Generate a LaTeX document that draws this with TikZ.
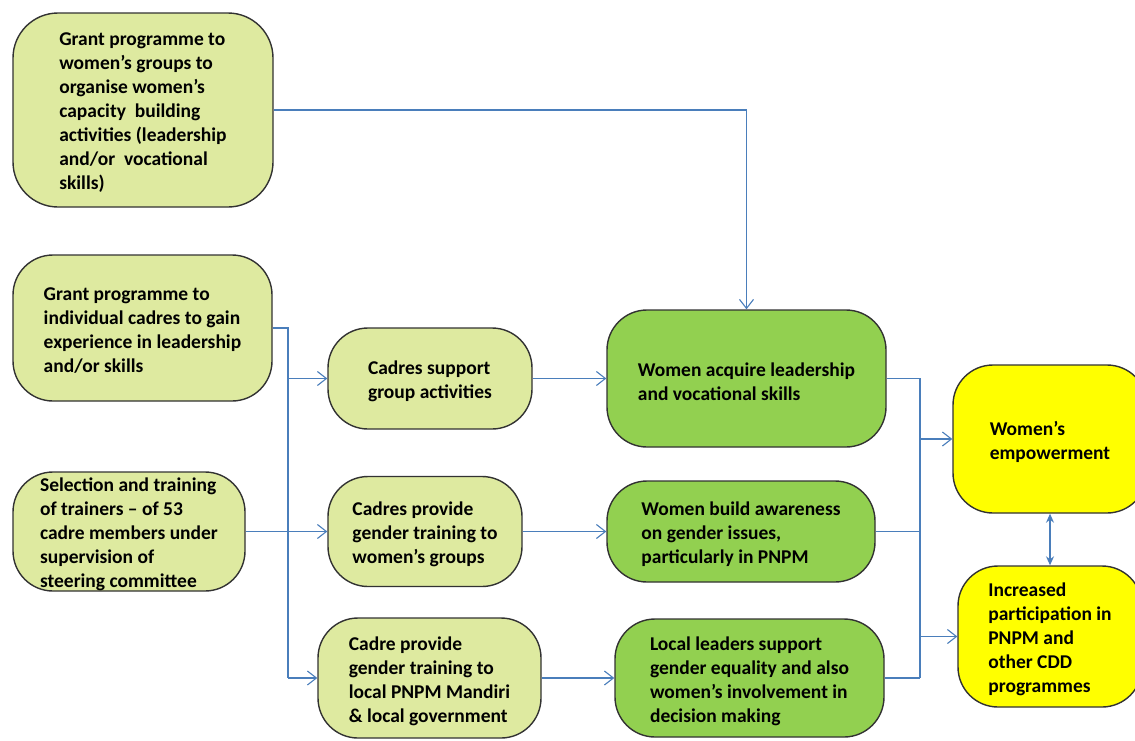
\documentclass[tikz,border=0pt]{standalone}
\usepackage{fontspec}
\setmainfont{Carlito}
\usetikzlibrary{arrows.meta}
\definecolor{lgreen}{RGB}{222,234,160}
\definecolor{dgreen}{RGB}{146,208,80}
\definecolor{yel}{RGB}{255,255,0}
\definecolor{bord}{RGB}{50,50,50}
\definecolor{conn}{RGB}{74,126,187}
\tikzset{
  box/.style={draw=bord, line width=1.4pt, rounded corners=40pt, align=left,
    inner sep=0pt, font=\fontsize{19.5}{24}\selectfont\bfseries, text=black},
  txt/.style={label={[anchor=center, yshift=-3pt, align=left, inner sep=0pt,
    font=\fontsize{19.5}{24}\selectfont\bfseries, text=black]center:#1}},
  lbox/.style={box, fill=lgreen},
  dbox/.style={box, fill=dgreen},
  ybox/.style={box, fill=yel},
  cline/.style={draw=conn, line width=1.15pt},
  carr/.style={cline, -{Straight Barb[length=9pt,width=14pt,line width=1.1pt]}},
  cdarr/.style={cline, {Stealth[length=9pt,width=8pt]}-{Stealth[length=9pt,width=8pt]}}
}
\begin{document}
\begin{tikzpicture}[x=1pt,y=-1pt]
\useasboundingbox (0,0) rectangle (1135,740);
\clip (0,0) rectangle (1135,740);
\node[lbox, minimum width=260pt, minimum height=194pt, rounded corners=45pt,
  txt={Grant programme to\\women’s groups to\\organise women’s\\capacity\ \ building\\activities (leadership\\and/or\ \ vocational\\skills)}] (n1) at (143,110) {};
\node[lbox, minimum width=259pt, minimum height=146pt,
  txt={Grant programme to\\individual cadres to gain\\experience in leadership\\and/or skills}] (n2) at (142.5,328) {};
\node[lbox, minimum width=232pt, minimum height=119pt,
  txt={Selection and training\\of trainers – of 53\\cadre members under\\supervision of\\steering committee}] (n3) at (129,531.5) {};
\node[lbox, minimum width=204pt, minimum height=101pt,
  txt={Cadres support\\group activities}] (n4) at (430,378.5) {};
\node[lbox, minimum width=194pt, minimum height=110pt,
  txt={Cadres provide\\gender training to\\women’s groups}] (n5) at (425,531.5) {};
\node[lbox, minimum width=223pt, minimum height=120pt,
  txt={Cadre provide\\gender training to\\local PNPM Mandiri\\\& local government}] (n6) at (429.5,678) {};
\node[dbox, minimum width=279pt, minimum height=137pt,
  txt={Women acquire leadership\\and vocational skills}] (n7) at (746.5,378.5) {};
\node[dbox, minimum width=268pt, minimum height=101pt,
  txt={Women build awareness\\on gender issues,\\particularly in PNPM}] (n8) at (741,531.5) {};
\node[dbox, minimum width=269pt, minimum height=118pt,
  txt={Local leaders support\\gender equality and also\\women’s involvement in\\decision making}] (n9) at (749.5,678) {};
\node[ybox, minimum width=194pt, minimum height=148pt,
  txt={Women’s\\empowerment}] (n10) at (1050,439) {};
\node[ybox, minimum width=184pt, minimum height=141pt,
  txt={Increased\\participation in\\PNPM and\\other CDD\\programmes}] (n11) at (1050,636.5) {};
\coordinate (k) at (288,328);
\coordinate (j) at (920,378.5);
% connectors
\draw[carr] (n1.east) -| (n7.north);
\draw[cline] (n2.east) -- (k) -- (k |- n6.west);
\draw[carr] (k |- n4.west) -- (n4.west);
\draw[carr] (k |- n6.west) -- (n6.west);
\draw[carr] (n3.east) -- (n5.west);
\draw[carr] (n4.east) -- (n7.west);
\draw[carr] (n5.east) -- (n8.west);
\draw[carr] (n6.east) -- (n9.west);
\draw[cline] (n7.east) -- (j) -- (j |- n9.east);
\draw[cline] (n8.east) -- (n8.east -| j);
\draw[cline] (n9.east) -- (n9.east -| j);
\draw[carr] (j |- n10.west) -- (n10.west);
\draw[carr] (j |- n11.west) -- (n11.west);
\draw[cdarr] (n10.south) -- (n11.north);
\end{tikzpicture}
\end{document}
